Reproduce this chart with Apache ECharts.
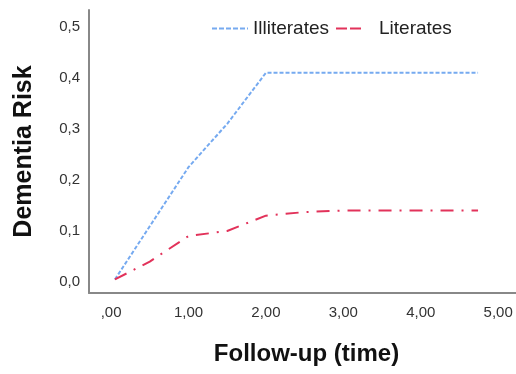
<!DOCTYPE html>
<html>
<head>
<meta charset="utf-8">
<script src="https://cdn.jsdelivr.net/npm/echarts@6/dist/echarts.min.js"></script>
<style>
  html, body { margin: 0; padding: 0; background: #fff; }
  #chart { width: 516px; height: 374px; }
</style>
</head>
<body>
<div id="chart"></div>
<script>
// values: [time, risk]
const illiterates = [[0.05, 0.005], [1, 0.225], [1.5, 0.31], [2, 0.41], [3, 0.41], [4.74, 0.41]];
const literates = [[0.05, 0.005], [0.5, 0.04], [1, 0.09], [1.5, 0.1], [2, 0.13], [2.5, 0.137], [3, 0.14], [4.74, 0.14]];
const xTicks = [0, 1, 2, 3, 4, 5];
const yTicks = [0, 0.1, 0.2, 0.3, 0.4, 0.5];

const chart = echarts.init(document.getElementById("chart"), null, { renderer: "canvas" });

const font = "'Liberation Sans', Arial, sans-serif";
const blue = "#76aaf0";
const red = "#e2325a";

chart.setOption({
  animation: false,
  textStyle: { fontFamily: font },
  grid: { left: 89, right: 0, top: 10, bottom: 81 },
  legend: [
    {
      data: ["Illiterates"],
      left: 206, top: 14,
      itemWidth: 36, itemHeight: 14,
      itemStyle: { opacity: 0 },
      lineStyle: { type: [5, 2] },
      textStyle: { fontSize: 19, color: "#222", fontFamily: font },
    },
    {
      data: ["Literates"],
      left: 330, top: 14,
      itemWidth: 26, itemHeight: 14,
      itemStyle: { opacity: 0 },
      lineStyle: { type: [11, 3] },
      textStyle: { fontSize: 19, color: "#222", fontFamily: font, padding: [0, 0, 0, 12] },
    },
  ],
  xAxis: {
    type: "value",
    min: -0.285,
    max: 5.23,
    name: "Follow-up (time)",
    nameLocation: "middle",
    nameGap: 49,
    nameTextStyle: { fontSize: 24, fontWeight: "bold", color: "#111", padding: [0, 0, 0, 8] },
    splitLine: { show: false },
    axisLine: { onZero: false, lineStyle: { color: "#888", width: 2 } },
    axisTick: { show: false },
    axisLabel: {
      customValues: xTicks,
      fontSize: 15,
      color: "#333",
      margin: 12,
      formatter: (v) => (v === 0 ? ",00" : v.toFixed(2).replace(".", ",")),
    },
  },
  yAxis: {
    type: "value",
    min: -0.0216,
    max: 0.533,
    name: "Dementia Risk",
    nameLocation: "middle",
    nameGap: 52,
    nameRotate: 90,
    nameTextStyle: { fontSize: 25, fontWeight: "bold", color: "#111" },
    splitLine: { show: false },
    axisLine: { show: true, onZero: false, lineStyle: { color: "#888", width: 2 } },
    axisTick: { show: false },
    axisLabel: {
      customValues: yTicks,
      fontSize: 15,
      color: "#333",
      margin: 9,
      formatter: (v) => v.toFixed(1).replace(".", ","),
    },
  },
  series: [
    {
      name: "Illiterates",
      type: "line",
      data: illiterates,
      symbol: "none",
      itemStyle: { color: blue },
      lineStyle: { color: blue, width: 2, type: [4, 2] },
    },
    {
      name: "Literates",
      type: "line",
      data: literates,
      symbol: "none",
      itemStyle: { color: red },
      lineStyle: { color: red, width: 2, type: [13, 8, 2, 8] },
    },
  ],
});
</script>
</body>
</html>
